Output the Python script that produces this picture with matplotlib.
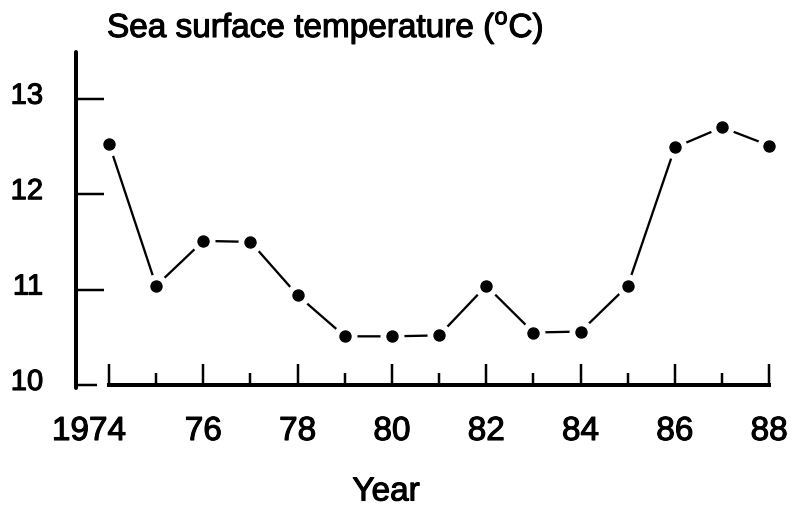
import matplotlib
matplotlib.use("Agg")
import matplotlib.pyplot as plt
import matplotlib.patheffects as pe
from matplotlib.transforms import ScaledTranslation

# Annual mean sea surface temperature
years = [1974, 1975, 1976, 1977, 1978, 1979, 1980, 1981,
         1982, 1983, 1984, 1985, 1986, 1987, 1988]
temps = [12.53, 11.04, 11.51, 11.50, 10.94, 10.51, 10.51, 10.52,
         11.04, 10.55, 10.56, 11.04, 12.49, 12.70, 12.51]

major_years = [1974, 1976, 1978, 1980, 1982, 1984, 1986, 1988]
major_labels = ["1974", "76", "78", "80", "82", "84", "86", "88"]
minor_years = [1975, 1977, 1979, 1981, 1983, 1985, 1987]
y_ticks = [10, 11, 12, 13]
y_labels = ["10", "11", "12", "13"]

plt.rcParams["font.family"] = ["Liberation Sans", "DejaVu Sans"]
plt.rcParams["mathtext.fontset"] = "custom"
plt.rcParams["mathtext.rm"] = "Liberation Sans"

DPI = 100
fig = plt.figure(figsize=(7.94, 5.17), dpi=DPI)
px = 72.0 / DPI  # points per pixel
heavy = [pe.withStroke(linewidth=0.8, foreground="black")]

# axes box: left edge is the y axis, bottom edge is the value 10
x0, x1 = 76, 773
y_top, y_bot = 52, 385
ax = fig.add_axes([x0 / 794, 1 - y_bot / 517, (x1 - x0) / 794, (y_bot - y_top) / 517])
ax.set_xlim(1973.3, 1988.08)
ax.set_ylim(10.0, 13.49)

for s in ("top", "right"):
    ax.spines[s].set_visible(False)
ax.spines["left"].set_linewidth(4 * px)
ax.spines["left"].set_bounds(9.97, 13.49)
ax.spines["left"].set_capstyle("round")
ax.spines["bottom"].set_linewidth(4 * px)
ax.spines["bottom"].set_bounds(1974, 1988)

# x ticks point upward into the plot
ax.set_xticks(major_years)
ax.set_xticklabels(major_labels, fontsize=24)
ax.set_xticks(minor_years, minor=True)
ax.tick_params(axis="x", which="major", direction="in", length=21 * px,
               width=2.5 * px, pad=31 * px)
ax.tick_params(axis="x", which="minor", direction="in", length=12 * px,
               width=2.5 * px)
# first year label sits left of its tick
lbl0 = ax.get_xticklabels()[0]
lbl0.set_transform(lbl0.get_transform() + ScaledTranslation(-20 / DPI, 0, fig.dpi_scale_trans))
for lbl in ax.get_xticklabels():
    lbl.set_path_effects(heavy)

ax.set_yticks(y_ticks)
ax.set_yticklabels(y_labels, fontsize=21)
ax.tick_params(axis="y", direction="in", length=28 * px, width=2.5 * px, pad=33 * px)
for lbl in ax.get_yticklabels():
    lbl.set_transform(lbl.get_transform() + ScaledTranslation(0, 6 / DPI, fig.dpi_scale_trans))
    lbl.set_path_effects(heavy)
ax.get_yticklines()[0].set_markersize(21 * px)

# connecting line, broken just short of each dot
ax.plot(years, temps, color="black", lw=2.3 * px, zorder=2, solid_capstyle="butt", clip_on=False)
ax.plot(years, temps, ls="none", marker="o", ms=24 * px, mfc="white", mec="none", zorder=3, clip_on=False)
ax.plot(years, temps, ls="none", marker="o", ms=11 * px, mfc="black", mec="black", zorder=4, clip_on=False)

fig.text(107 / 794, 1 - 37 / 517, r"Sea surface temperature ($^{\rm o}$C)",
         fontsize=24, ha="left", va="baseline", path_effects=heavy)
fig.text(386 / 794, 1 - 492 / 517, "Year", fontsize=24, ha="center", va="center",
         path_effects=heavy)

fig.savefig("out.png", dpi=DPI)
